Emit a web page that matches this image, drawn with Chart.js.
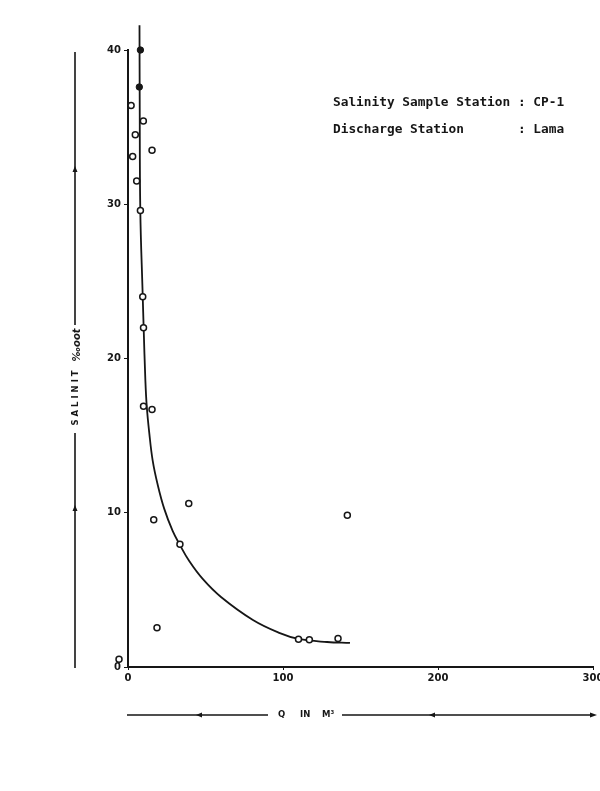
<!DOCTYPE html>
<html>
<head>
<meta charset="utf-8">
<script src="https://cdn.jsdelivr.net/npm/chart.js@4/dist/chart.umd.min.js"></script>
<style>
  html, body { margin: 0; padding: 0; background: #fff; }
  #wrap { width: 600px; height: 791px; position: relative; }
</style>
</head>
<body>
<div id="wrap"><canvas id="grafico" width="600" height="791"></canvas></div>
<script>
// discharge Q (m3) vs salinity (o/oo), station CP-1 / Lama
const qAberto   = [2, 9.9, 4.7, 15.5, 3, 5.6, 8, 9.5, 10, 10, 15.5, 16.6, 39.2, 33.5, 18.7, 110, 117, 135.5, 141.5];
const salAberto = [36.4, 35.4, 34.5, 33.5, 33.1, 31.5, 29.6, 24.0, 22.0, 16.9, 16.7, 9.55, 10.6, 7.95, 2.55, 1.8, 1.77, 1.84, 9.84];
const qCheio    = [8, 7.3];
const salCheio  = [40, 37.6];
// point plotted left of the y axis
const qFora     = [-5.8];
const salFora   = [0.5];

// hand fitted curve
const curvaQ   = [7.42, 7.55, 7.94, 9.48, 10.1, 11.2, 12.1, 13.7, 15.9, 19.2, 23.4, 28.8, 33.5, 39.5, 48.2, 60.0, 80.6, 98, 110, 128.4, 143.2];
const curvaSal = [41.6, 36.8, 29.6, 24.1, 22.0, 18.6, 16.9, 15.2, 13.4, 11.8, 10.25, 8.82, 7.91, 6.87, 5.71, 4.54, 3.05, 2.2, 1.82, 1.62, 1.56];

const xTicks = [0, 100, 200, 300];
const yTicks = [0, 10, 20, 30, 40];

const tinta = "#161616";
const pares = (xs, ys) => xs.map((x, i) => ({ x, y: ys[i] }));

const decoracao = {
  id: "decoracao",
  afterDatasetsDraw(chart) {
    const c = chart.ctx;
    const { x: sx, y: sy } = chart.scales;
    c.save();
    c.strokeStyle = tinta;
    c.fillStyle = "#fff";
    c.lineWidth = 1.5;
    qFora.forEach((q, i) => {
      c.beginPath();
      c.arc(sx.getPixelForValue(q), sy.getPixelForValue(salFora[i]), 3, 0, Math.PI * 2);
      c.fill();
      c.stroke();
    });
    c.restore();
  },
  afterDraw(chart) {
    const c = chart.ctx;
    c.save();
    c.strokeStyle = tinta;
    c.fillStyle = tinta;
    c.lineWidth = 1.6;

    // left axis title line
    c.beginPath();
    c.moveTo(75, 52); c.lineTo(75, 325);
    c.moveTo(75, 433); c.lineTo(75, 668);
    c.stroke();
    [170, 509].forEach((y) => {
      c.beginPath();
      c.moveTo(75, y - 4); c.lineTo(77.5, y + 2); c.lineTo(72.5, y + 2); c.closePath();
      c.fill();
    });

    c.save();
    c.translate(76, 398);
    c.rotate(-Math.PI / 2);
    c.textAlign = "center";
    c.textBaseline = "middle";
    c.font = "bold 8.5px 'DejaVu Sans'";
    c.fillText("S A L I N I T", 0, 0);
    c.restore();

    c.save();
    c.translate(77, 345);
    c.rotate(-Math.PI / 2);
    c.textAlign = "center";
    c.textBaseline = "middle";
    c.font = "bold italic 10px 'DejaVu Sans'";
    c.fillText("‰oot", 0, 0);
    c.restore();

    // bottom axis title line
    c.lineWidth = 1.4;
    c.beginPath();
    c.moveTo(127, 715); c.lineTo(268, 715);
    c.moveTo(342, 715); c.lineTo(592, 715);
    c.stroke();
    c.beginPath();
    c.moveTo(597, 715); c.lineTo(590, 712.5); c.lineTo(590, 717.5); c.closePath();
    c.fill();
    [200, 433].forEach((x) => {
      c.beginPath();
      c.moveTo(x - 4, 715); c.lineTo(x + 2, 712.5); c.lineTo(x + 2, 717.5); c.closePath();
      c.fill();
    });
    c.font = "bold 8.5px 'DejaVu Sans'";
    c.textBaseline = "middle";
    c.textAlign = "left";
    c.fillText("Q", 278, 715);
    c.fillText("IN", 300, 715);
    c.fillText("M³", 322, 715);

    // station labels
    c.font = "bold 12.8px 'DejaVu Sans Mono'";
    c.textBaseline = "middle";
    c.fillText("Salinity Sample Station : CP-1", 333, 103);
    c.fillText("Discharge Station       : Lama", 333, 130);
    c.restore();
  },
};

new Chart(document.getElementById("grafico").getContext("2d"), {
  type: "scatter",
  data: {
    datasets: [
      {
        label: "curva",
        data: pares(curvaQ, curvaSal),
        showLine: true,
        borderColor: tinta,
        borderWidth: 1.8,
        pointRadius: 0,
        tension: 0.4,
        clip: false,
        order: 2,
      },
      {
        label: "abertos",
        data: pares(qAberto, salAberto),
        pointRadius: 3,
        pointBorderWidth: 1.5,
        pointBorderColor: tinta,
        pointBackgroundColor: "#fff",
        clip: false,
        order: 1,
      },
      {
        label: "cheios",
        data: pares(qCheio, salCheio),
        pointRadius: 3.2,
        pointBorderWidth: 1,
        pointBorderColor: tinta,
        pointBackgroundColor: tinta,
        clip: false,
        order: 0,
      },
    ],
  },
  options: {
    responsive: false,
    animation: false,
    layout: { padding: { top: 50, right: 7, left: 0, bottom: 0 } },
    plugins: { legend: { display: false }, tooltip: { enabled: false } },
    scales: {
      x: {
        type: "linear",
        min: 0,
        max: 300,
        afterBuildTicks: (s) => { s.ticks = xTicks.map((v) => ({ value: v })); },
        afterFit: (s) => { s.height = 124; s.paddingLeft = 0; s.paddingRight = 0; },
        border: { color: tinta, width: 2 },
        grid: { drawOnChartArea: false, drawTicks: true, tickLength: 3, color: tinta },
        ticks: { color: tinta, padding: 2, font: { family: "'DejaVu Sans'", size: 10, weight: "bold" } },
      },
      y: {
        type: "linear",
        min: 0,
        max: 40,
        afterBuildTicks: (s) => { s.ticks = yTicks.map((v) => ({ value: v })); },
        afterFit: (s) => { s.width = 128; s.paddingTop = 0; s.paddingBottom = 0; },
        border: { color: tinta, width: 2 },
        grid: { drawOnChartArea: false, drawTicks: true, tickLength: 4, color: tinta },
        ticks: { color: tinta, padding: 3, font: { family: "'DejaVu Sans'", size: 10, weight: "bold" } },
      },
    },
  },
  plugins: [decoracao],
});
</script>
</body>
</html>
